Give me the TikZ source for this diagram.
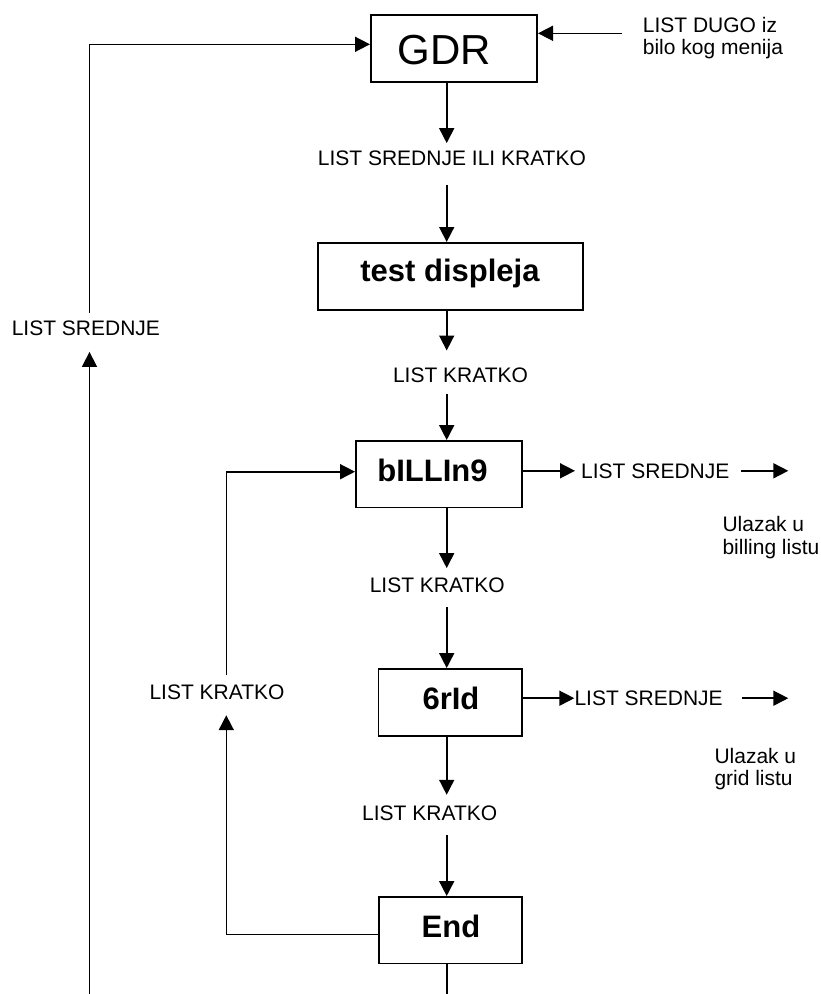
\documentclass[tikz,border=0pt]{standalone}
\usepackage{fontspec}
\setmainfont{Liberation Sans}
\usetikzlibrary{arrows.meta,calc}
\begin{document}
\begin{tikzpicture}[x=1pt,y=-1pt,
  box/.style={draw,line width=1.7pt,inner sep=0pt},
  lbl/.style={inner sep=0pt,anchor=base,font=\fontsize{21}{22}\selectfont,text height=15pt,text depth=0pt},
  lblw/.style={lbl,anchor=base west},
  plain/.style={inner sep=0pt,anchor=base west,font=\fontsize{21}{22}\selectfont},
  btxt/.style={inner sep=0pt,anchor=base,font=\fontsize{31}{32}\selectfont\bfseries},
  arr/.style={line width=1.6pt,-{Triangle[length=15pt,width=15pt]}},
  ln/.style={line width=1.6pt}]
\fill[white] (0,0) rectangle (821,994);
\useasboundingbox (0,0) rectangle (821,994);

% boxes
\node[box,minimum width=166.3pt,minimum height=67.3pt] (gdr) at (454,48.5) {};
\node[box,minimum width=265.3pt,minimum height=67.3pt] (test) at (450.5,276.5) {};
\node[box,minimum width=166pt,minimum height=66.6pt] (bill) at (438.9,474.2) {};
\node[box,minimum width=143.3pt,minimum height=67pt] (rid) at (450.2,702.4) {};
\node[box,minimum width=142.7pt,minimum height=66.6pt] (endb) at (450.5,930.2) {};

% box texts
\node[inner sep=0pt,anchor=base,font=\fontsize{42}{44}\selectfont] (gdrt) at (444,64.3) {GDR};
\node[btxt] (testt) at (450,281.7) {test displeja};
\node[btxt] (billt) at (432.5,481) {bILLIn9};
\node[btxt] (ridt) at (451,709.3) {6rId};
\node[btxt] (endt) at (451,937.7) {End};

% labels on main column
\node[lbl] (l1) at (451.9,165) {LIST SREDNJE ILI KRATKO};
\node[lbl] (l2) at (460.5,382.3) {LIST KRATKO};
\node[lbl] (l3) at (437.3,592.3) {LIST KRATKO};
\node[lbl] (l4) at (429.7,820) {LIST KRATKO};

% left labels
\node[lbl] (ls) at (85.9,335.7) {LIST SREDNJE};
\node[lbl] (lk) at (217,699) {LIST KRATKO};

% right labels
\node[lblw] (bsr) at (581,478.3) {LIST SREDNJE};
\node[lblw] (rsr) at (574.3,705.7) {LIST SREDNJE};
\node[plain] (dugo1) at (642.7,32.3) {LIST DUGO iz};
\node[plain] (dugo2) at (642.7,54.3) {bilo kog menija};
\node[plain] (u1a) at (722.3,531.7) {Ulazak u};
\node[plain] (u1b) at (722.3,554.5) {billing listu};
\node[plain] (u2a) at (714.3,763.3) {Ulazak u};
\node[plain] (u2b) at (714.3,785) {grid listu};

% helper coordinates
\coordinate (ax) at (446.7,0);
\coordinate (bot) at (0,994);
\coordinate (dugoS) at (622,33.3);
\coordinate (bout) at (788.3,0);
\coordinate (ox) at (89.5,0);
\coordinate (yA) at (0,44.3);
\coordinate (ix) at (226.3,0);
\coordinate (yE) at (0,934.3);
\coordinate (yB) at (0,471.7);

% main column
\draw[arr,shorten >=6.7pt] (gdr.south -| ax) -- (l1.north -| ax);
\draw[arr,shorten <=19.3pt] (l1.south -| ax) -- (test.north -| ax);
\draw[arr,shorten >=16.6pt] (test.south -| ax) -- (l2.north -| ax);
\draw[arr,shorten <=11pt] (l2.south -| ax) -- (bill.north -| ax);
\draw[arr,shorten >=9pt] (bill.south -| ax) -- (l3.north -| ax);
\draw[arr,shorten <=14.4pt] (l3.south -| ax) -- (rid.north -| ax);
\draw[arr,shorten >=10pt] (rid.south -| ax) -- (l4.north -| ax);
\draw[arr,shorten <=15pt] (l4.south -| ax) -- (endb.north -| ax);
\draw[ln] (endb.south -| ax) -- (ax |- bot);

% right side
\draw[arr] (dugoS) -- (gdr.east |- dugoS);
\draw[arr,shorten >=6pt] (bill.east |- bsr.west) -- (bsr.west);
\draw[arr,shorten <=11.7pt] (bsr.east) -- (bout |- bsr.east);
\draw[arr] (rid.east |- rsr.west) -- (rsr.west);
\draw[arr,shorten <=19.4pt] (rsr.east) -- (bout |- rsr.east);

% outer loop
\draw[arr,shorten >=16pt] (ox |- bot) -- (ls.south -| ox);
\draw[arr,shorten <=7.4pt] (ls.north -| ox) |- (gdr.west |- yA);

% inner loop
\draw[arr,shorten >=16pt] (endb.west |- yE) -| (lk.south -| ix);
\draw[arr,shorten <=9pt] (lk.north -| ix) |- (bill.west |- yB);
\end{tikzpicture}
\end{document}
